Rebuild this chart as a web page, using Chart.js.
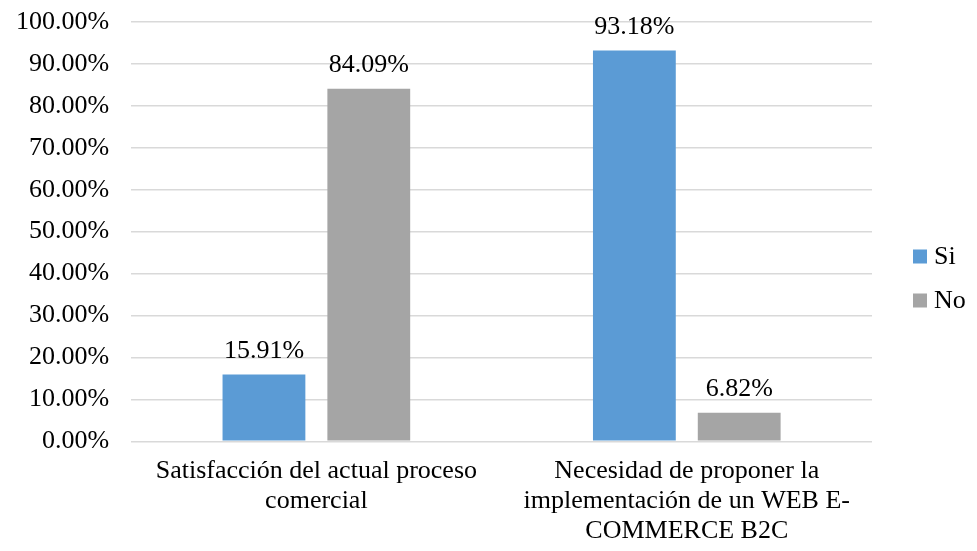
<!DOCTYPE html>
<html>
<head>
<meta charset="utf-8">
<script src="https://cdn.jsdelivr.net/npm/chart.js@4"></script>
<style>
  html, body { margin: 0; padding: 0; background: #fff; }
  #wrap { width: 977px; height: 551px; }
</style>
</head>
<body>
<div id="wrap"><canvas id="chart"></canvas></div>
<script>
/* ===== DATA ===== */
const CATEGORIES = [
  ["Satisfacción del actual proceso", "comercial"],
  ["Necesidad de proponer la", "implementación de un WEB E-", "COMMERCE B2C"]
];
const SI_VALUES = [15.91, 93.18];
const NO_VALUES = [84.09, 6.82];
const SERIES_NAMES = ["Si", "No"];
/* ================ */

const FONT = "'Liberation Serif', 'Times New Roman', serif";
const FONT_SIZE = 26;

// value labels above each bar
const valueLabels = {
  id: "valueLabels",
  afterDatasetsDraw(chart) {
    const ctx = chart.ctx;
    ctx.save();
    ctx.font = FONT_SIZE + "px " + FONT;
    ctx.fillStyle = "#000";
    ctx.textAlign = "center";
    ctx.textBaseline = "alphabetic";
    chart.data.datasets.forEach((ds, i) => {
      chart.getDatasetMeta(i).data.forEach((bar, j) => {
        ctx.fillText(ds.data[j].toFixed(2) + "%", bar.x, bar.y - 17);
      });
    });
    ctx.restore();
  }
};

// legend on the right, Excel style (small square + name)
const sideLegend = {
  id: "sideLegend",
  afterDraw(chart) {
    const ctx = chart.ctx;
    const area = chart.chartArea;
    const n = chart.data.datasets.length;
    const gap = 44;
    const y0 = chart.height / 2 + 3 - ((n - 1) * gap) / 2;
    ctx.save();
    ctx.font = FONT_SIZE + "px " + FONT;
    ctx.textBaseline = "middle";
    ctx.textAlign = "left";
    chart.data.datasets.forEach((ds, i) => {
      const y = y0 + i * gap;
      const x = area.right + 41;
      ctx.fillStyle = ds.backgroundColor;
      ctx.fillRect(x, y - 7, 14, 14);
      ctx.fillStyle = "#000";
      ctx.fillText(ds.label, x + 21, y + 1);
    });
    ctx.restore();
  }
};

new Chart(document.getElementById("chart"), {
  type: "bar",
  data: {
    labels: CATEGORIES,
    datasets: [
      {
        label: SERIES_NAMES[0],
        data: SI_VALUES,
        backgroundColor: "#5b9bd5",
        categoryPercentage: 0.566,
        barPercentage: 0.79
      },
      {
        label: SERIES_NAMES[1],
        data: NO_VALUES,
        backgroundColor: "#a5a5a5",
        categoryPercentage: 0.566,
        barPercentage: 0.79
      }
    ]
  },
  options: {
    responsive: true,
    maintainAspectRatio: false,
    animation: false,
    layout: { padding: { left: -6, right: 105, top: 22, bottom: -2 } },
    plugins: {
      legend: { display: false },
      tooltip: { enabled: false }
    },
    scales: {
      x: {
        grid: { display: false },
        border: { display: false },
        ticks: {
          font: { family: FONT, size: FONT_SIZE, lineHeight: 1.15 },
          color: "#000",
          maxRotation: 0,
          padding: 7
        }
      },
      y: {
        min: 0,
        max: 100,
        grid: { color: "#d9d9d9", lineWidth: 1.5, drawTicks: false },
        border: { display: false },
        // let the top tick label overhang like Excel does
        afterFit: (s) => { s.paddingTop = 0; },
        ticks: {
          stepSize: 10,
          font: { family: FONT, size: FONT_SIZE },
          color: "#000",
          padding: 22,
          callback: (v) => Number(v).toFixed(2) + "%"
        }
      }
    }
  },
  plugins: [valueLabels, sideLegend]
});
</script>
</body>
</html>
